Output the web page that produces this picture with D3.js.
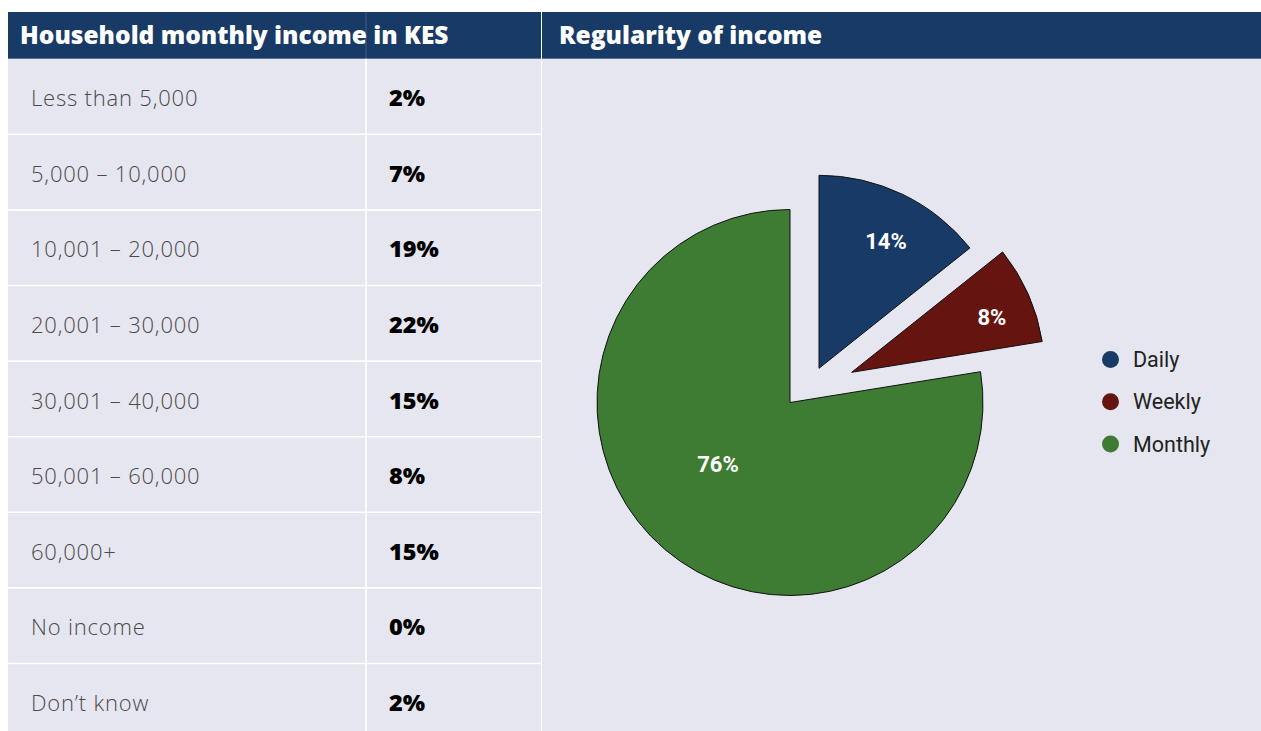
<!DOCTYPE html>
<html><head><meta charset="utf-8">
<script src="https://cdn.jsdelivr.net/npm/d3@7"></script>
<style>
html,body{margin:0;padding:0;background:#fff;}
svg{display:block;}
</style></head>
<body>
<svg id="c" width="1261" height="731"></svg>
<script>
// ---------- data ----------
const incomeBands = ["Less than 5,000","5,000 – 10,000","10,001 – 20,000","20,001 – 30,000","30,001 – 40,000","50,001 – 60,000","60,000+","No income","Don’t know"];
const incomeShares = [2,7,19,22,15,8,15,0,2];
const regularityCats = ["Daily","Weekly","Monthly"];
const regularityShares = [14,8,76];
const titleLeft = "Household monthly income in KES";
const titleRight = "Regularity of income";

// ---------- style / layout ----------
const colors = ["#173a66","#66140f","#3e7b33"];
const navy = "#183a67", panel = "#e5e6ef";
const W = 1261, H = 731;
const headTop = 12, headH = 46.7, leftX = 8, leftR = 541, splitX = 366, rightX = 542;
const rowH = 75.6;
const bodyTop = headTop + headH;
const heavyFont = "'Open Sans', Roboto, sans-serif";
const lightFont = "'Open Sans', Roboto, sans-serif";

const svg = d3.select("#c");

// panels
svg.append("rect").attr("x",leftX).attr("y",bodyTop).attr("width",leftR-leftX).attr("height",H-bodyTop).attr("fill",panel);
svg.append("rect").attr("x",rightX).attr("y",bodyTop).attr("width",W-rightX).attr("height",H-bodyTop).attr("fill",panel);
svg.append("rect").attr("x",leftX).attr("y",headTop).attr("width",leftR-leftX).attr("height",headH).attr("fill",navy);
svg.append("rect").attr("x",rightX).attr("y",headTop).attr("width",W-rightX).attr("height",headH).attr("fill",navy);
svg.append("line").attr("x1",splitX).attr("x2",splitX).attr("y1",headTop).attr("y2",bodyTop)
  .attr("stroke","#fff").attr("stroke-opacity",0.18).attr("stroke-width",1);

svg.append("text").attr("x",20).attr("y",43.8).text(titleLeft)
  .attr("font-family",heavyFont).attr("font-weight",800).attr("font-size",24.5).attr("fill","#fff");
svg.append("text").attr("x",559).attr("y",43.8).text(titleRight)
  .attr("font-family",heavyFont).attr("font-weight",800).attr("font-size",24.5).attr("fill","#fff");

// table via band scale
const y = d3.scaleBand().domain(incomeBands).range([bodyTop, bodyTop + rowH*incomeBands.length]).padding(0);
const rows = svg.append("g").selectAll("g").data(incomeBands).join("g")
  .attr("transform", d => `translate(0,${y(d)})`);
rows.filter((d,i)=>i>0).append("line").attr("x1",leftX).attr("x2",leftR).attr("y1",0).attr("y2",0)
  .attr("stroke","#fff").attr("stroke-width",1.6);
rows.append("text").attr("x",31).attr("y",y.bandwidth()/2+9.8).text(d=>d)
  .attr("font-family",lightFont).attr("font-weight",300)
  .attr("font-size",22).attr("letter-spacing",0.8).attr("fill","#4a4a4a");
rows.append("text").attr("x",389).attr("y",y.bandwidth()/2+9.8).text((d,i)=>incomeShares[i]+"%")
  .attr("font-family",heavyFont).attr("font-weight",800)
  .attr("font-size",23.5).attr("fill","#000");
svg.append("line").attr("x1",splitX).attr("x2",splitX).attr("y1",bodyTop).attr("y2",H)
  .attr("stroke","#fff").attr("stroke-width",1.6);

// pie
const cx = 790, cy = 402.5, R = 193;
const shifts = [[29,-34.2],[61.7,-30.2],[0,0]];
const labelPos = [{k:0.746,da:2},{k:0.78,da:2.5},{k:0.49,da:9.2}];
const pie = d3.pie().sort(null).value(d=>d)(regularityShares);
const arc = d3.arc().innerRadius(0).outerRadius(R);
const pg = svg.append("g").attr("transform",`translate(${cx},${cy})`);
const sl = pg.selectAll("g").data(pie).join("g")
  .attr("transform",(d,i)=>`translate(${shifts[i][0]},${shifts[i][1]})`);
sl.append("path").attr("d",arc).attr("fill",(d,i)=>colors[i]).attr("stroke","#111").attr("stroke-width",1);
sl.append("text")
  .attr("x",(d,i)=>{const a=(d.startAngle+d.endAngle)/2+labelPos[i].da*Math.PI/180;return Math.sin(a)*R*labelPos[i].k;})
  .attr("y",(d,i)=>{const a=(d.startAngle+d.endAngle)/2+labelPos[i].da*Math.PI/180;return -Math.cos(a)*R*labelPos[i].k;})
  .attr("text-anchor","middle").attr("dy","0.36em")
  .text((d,i)=>regularityShares[i]+"%")
  .attr("font-family","Roboto, 'Liberation Sans', sans-serif").attr("font-weight",700)
  .attr("font-size",22).attr("fill","#fff");

// legend
const ly = d3.scalePoint().domain(regularityCats).range([359.5,444]);
const lg = svg.append("g").selectAll("g").data(regularityCats).join("g")
  .attr("transform",d=>`translate(1110.5,${ly(d)})`);
lg.append("circle").attr("r",8.5).attr("fill",(d,i)=>colors[i]);
lg.append("text").attr("x",22.5).attr("dy","0.35em").text(d=>d)
  .attr("font-family","Roboto, 'Liberation Sans', sans-serif").attr("font-size",21.5).attr("fill","#222");
</script>
</body></html>
